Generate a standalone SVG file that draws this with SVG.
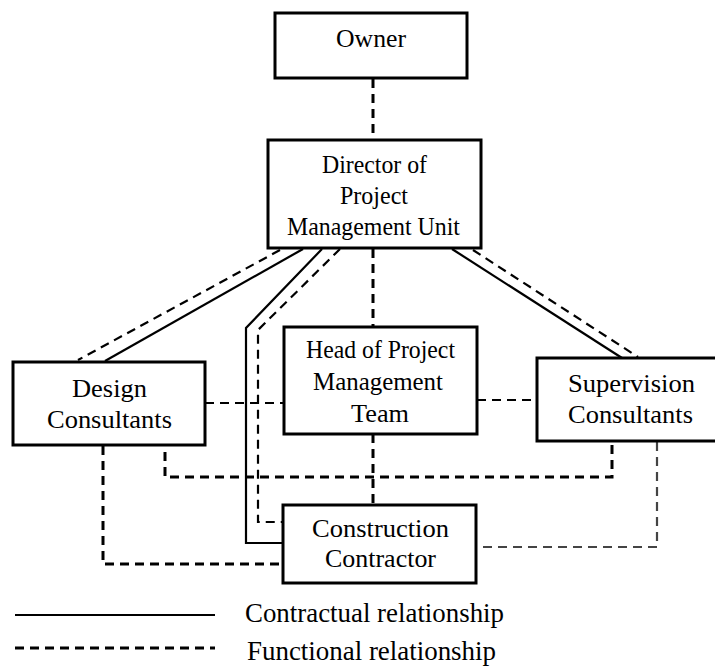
<svg xmlns="http://www.w3.org/2000/svg" width="715" height="666" viewBox="0 0 715 666">
  <style>
    .box { fill: #fff; stroke: #000; stroke-width: 3; }
    .lbl { font-size: 26px; fill: #000; text-anchor: middle; }
    .leg { font-size: 27px; fill: #000; }
    .solid { fill: none; stroke: #000; stroke-width: 2.2; }
    .dash { fill: none; stroke: #000; stroke-width: 3; stroke-dasharray: 9 6; }
    .dash-thin { fill: none; stroke: #000; stroke-width: 2.2; stroke-dasharray: 9 6; }
    .dash-grey { fill: none; stroke: #444; stroke-width: 2.2; stroke-dasharray: 9 6; }
  </style>
  <rect width="715" height="666" fill="#fff"/>

  <!-- connectors -->
  <g id="connectors">
    <!-- Owner to Director -->
    <line class="dash" x1="373" y1="79" x2="373" y2="140"/>
    <!-- Director to Design Consultants -->
    <line class="dash-thin" x1="280" y1="250" x2="78" y2="360"/>
    <line class="solid" x1="303" y1="249" x2="105" y2="361"/>
    <!-- Director to Construction Contractor -->
    <polyline class="solid" points="322,249 246,328 246,543 283,543"/>
    <polyline class="dash-thin" points="340,249 258,330 258,522 283,522"/>
    <!-- Director to Head of Project Management Team -->
    <line class="dash" x1="373" y1="249" x2="373" y2="327"/>
    <!-- Director to Supervision Consultants -->
    <line class="solid" x1="452" y1="249" x2="622" y2="358"/>
    <line class="dash-thin" x1="473" y1="250" x2="638" y2="357"/>
    <!-- Head to Design / Supervision -->
    <line class="dash-thin" x1="205" y1="403" x2="284" y2="403"/>
    <line class="dash-thin" x1="477" y1="400" x2="537" y2="400"/>
    <!-- Head to Construction Contractor -->
    <line class="dash" x1="373" y1="434" x2="373" y2="505"/>
    <!-- Design to Supervision -->
    <polyline class="dash" points="165,452 165,477 612,477 612,441"/>
    <!-- Design to Construction Contractor -->
    <polyline class="dash" points="103,446 103,564 283,564"/>
    <!-- Supervision to Construction Contractor -->
    <polyline class="dash-grey" points="657,442 657,547 477,547"/>
  </g>

  <g font-family="Liberation Serif, Times New Roman, Times, serif">
  <g id="owner">
    <rect class="box" x="275" y="13" width="192" height="65"/>
    <text class="lbl" x="371" y="47" textLength="70" lengthAdjust="spacingAndGlyphs">Owner</text>
  </g>

  <g id="director">
    <rect class="box" x="268" y="140" width="213" height="108"/>
    <text class="lbl" x="374.5" y="173" textLength="105" lengthAdjust="spacingAndGlyphs">Director of</text>
    <text class="lbl" x="374" y="204" textLength="68" lengthAdjust="spacingAndGlyphs">Project</text>
    <text class="lbl" x="373.5" y="235" textLength="173" lengthAdjust="spacingAndGlyphs">Management Unit</text>
  </g>

  <g id="design">
    <rect class="box" x="13" y="362" width="192" height="83"/>
    <text class="lbl" x="109.5" y="397" textLength="75" lengthAdjust="spacingAndGlyphs">Design</text>
    <text class="lbl" x="109.5" y="428" textLength="125" lengthAdjust="spacingAndGlyphs">Consultants</text>
  </g>

  <g id="head">
    <rect class="box" x="284" y="327" width="193" height="107"/>
    <text class="lbl" x="380.5" y="358" textLength="149" lengthAdjust="spacingAndGlyphs">Head of Project</text>
    <text class="lbl" x="378" y="390" textLength="130" lengthAdjust="spacingAndGlyphs">Management</text>
    <text class="lbl" x="380" y="422" textLength="58" lengthAdjust="spacingAndGlyphs">Team</text>
  </g>

  <g id="supervision">
    <rect class="box" x="537" y="358" width="190" height="83"/>
    <text class="lbl" x="631.5" y="392" textLength="127" lengthAdjust="spacingAndGlyphs">Supervision</text>
    <text class="lbl" x="630.5" y="423" textLength="125" lengthAdjust="spacingAndGlyphs">Consultants</text>
  </g>

  <g id="contractor">
    <rect class="box" x="283" y="505" width="193" height="78"/>
    <text class="lbl" x="380.5" y="537" textLength="137" lengthAdjust="spacingAndGlyphs">Construction</text>
    <text class="lbl" x="380.5" y="567" textLength="111" lengthAdjust="spacingAndGlyphs">Contractor</text>
  </g>

  <g id="legend">
    <line class="solid" x1="15" y1="615" x2="215" y2="615" stroke-width="3"/>
    <line class="dash" x1="15" y1="648" x2="215" y2="648" stroke-dasharray="10 5.5"/>
    <text class="leg" x="245" y="622" textLength="259" lengthAdjust="spacingAndGlyphs">Contractual relationship</text>
    <text class="leg" x="247" y="660" textLength="249" lengthAdjust="spacingAndGlyphs">Functional relationship</text>
  </g>
  </g>
</svg>
